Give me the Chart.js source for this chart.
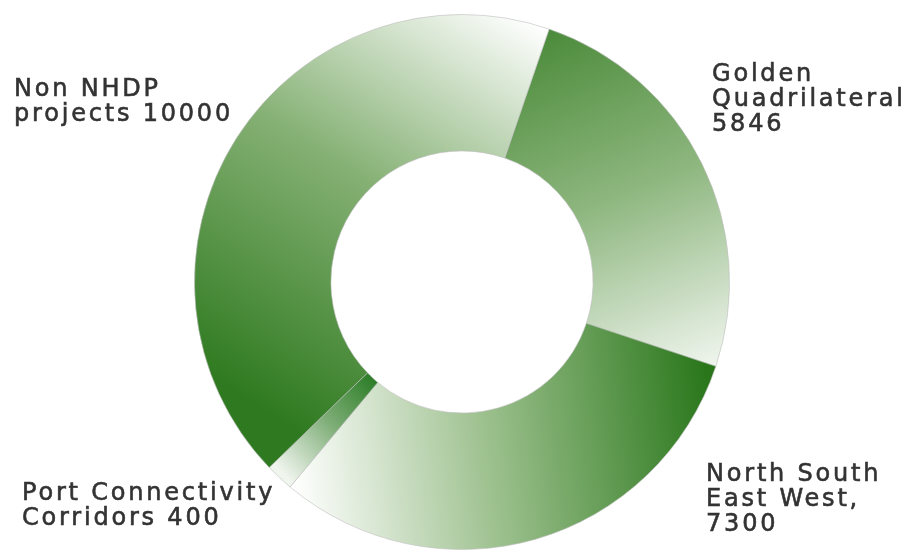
<!DOCTYPE html>
<html>
<head>
<meta charset="utf-8">
<script src="https://cdn.jsdelivr.net/npm/chart.js@4.4.1/dist/chart.umd.min.js"></script>
<style>
html, body { margin: 0; padding: 0; background: #fff; }
#wrap { width: 905px; height: 550px; }
</style>
</head>
<body>
<div id="wrap"><canvas id="nhdpChart"></canvas></div>
<script>
// NHDP break-up (km)
const categories = [
    ['Golden', 'Quadrilateral'],
    ['North South', 'East West,'],
    ['Port Connectivity', 'Corridors'],
    ['Non NHDP', 'projects']
];
const lengths = [5846, 7300, 400, 10000];

// where each slice's text block goes, and whether the number sits on its own line
const labelSpots = [
    { x: 712, y: 63, ownLine: true },
    { x: 706, y: 463, ownLine: true },
    { x: 22, y: 482, ownLine: false },
    { x: 14, y: 78, ownLine: false }
];

// gradient ends per slice, in outer-radius units from the centre
const shades = [
    { from: [0.30, -0.95], to: [0.85, 0.40], stops: ['#4a8a39', '#8db67e', '#f6f9f5'] },
    { from: [-0.65, 0.60], to: [0.92, 0.40], stops: ['#ffffff', '#9cc08d', '#2a771b'] },
    { from: [-0.35, 0.35], to: [-0.70, 0.68], stops: ['#2f7f2a', '#7fae78', '#f0f5ee'] },
    { from: [0.32, -0.94], to: [-0.62, 0.55], stops: ['#ffffff', '#86b175', '#2f7a20'] }
];

function sliceFill(c) {
    const chart = c.chart;
    const area = chart.chartArea;
    if (!area) return '#5a9a4a';
    const cx = (area.left + area.right) / 2;
    const cy = (area.top + area.bottom) / 2;
    const r = Math.min(area.width, area.height) / 2;
    const s = shades[c.dataIndex];
    const g = chart.ctx.createLinearGradient(
        cx + s.from[0] * r, cy + s.from[1] * r,
        cx + s.to[0] * r, cy + s.to[1] * r);
    g.addColorStop(0, s.stops[0]);
    g.addColorStop(0.47, s.stops[1]);
    g.addColorStop(1, s.stops[2]);
    return g;
}

const sliceLabels = {
    id: 'sliceLabels',
    afterDraw(chart) {
        const ctx = chart.ctx;
        ctx.save();
        ctx.font = '24px "DejaVu Sans"';
        ctx.fillStyle = '#333';
        ctx.strokeStyle = '#333';
        ctx.lineWidth = 0.6;
        ctx.textBaseline = 'top';
        ctx.letterSpacing = '2.8px';
        chart.data.labels.forEach((lines, i) => {
            const spot = labelSpots[i];
            const value = String(chart.data.datasets[0].data[i]);
            const text = spot.ownLine
                ? [...lines, value]
                : [...lines.slice(0, -1), lines[lines.length - 1] + ' ' + value];
            text.forEach((t, j) => {
                ctx.fillText(t, spot.x, spot.y + j * 25);
                ctx.strokeText(t, spot.x, spot.y + j * 25);
            });
        });
        ctx.restore();
    }
};

new Chart(document.getElementById('nhdpChart'), {
    type: 'doughnut',
    data: {
        labels: categories,
        datasets: [{
            data: lengths,
            backgroundColor: sliceFill,
            borderColor: 'rgba(190,190,190,0.6)',
            borderWidth: 1,
            hoverOffset: 0
        }]
    },
    options: {
        responsive: true,
        maintainAspectRatio: false,
        animation: false,
        rotation: 19,
        cutout: '49%',
        layout: { padding: { left: 194, right: 175, top: 14, bottom: 0 } },
        plugins: {
            legend: { display: false },
            tooltip: { enabled: false }
        }
    },
    plugins: [sliceLabels]
});
</script>
</body>
</html>
